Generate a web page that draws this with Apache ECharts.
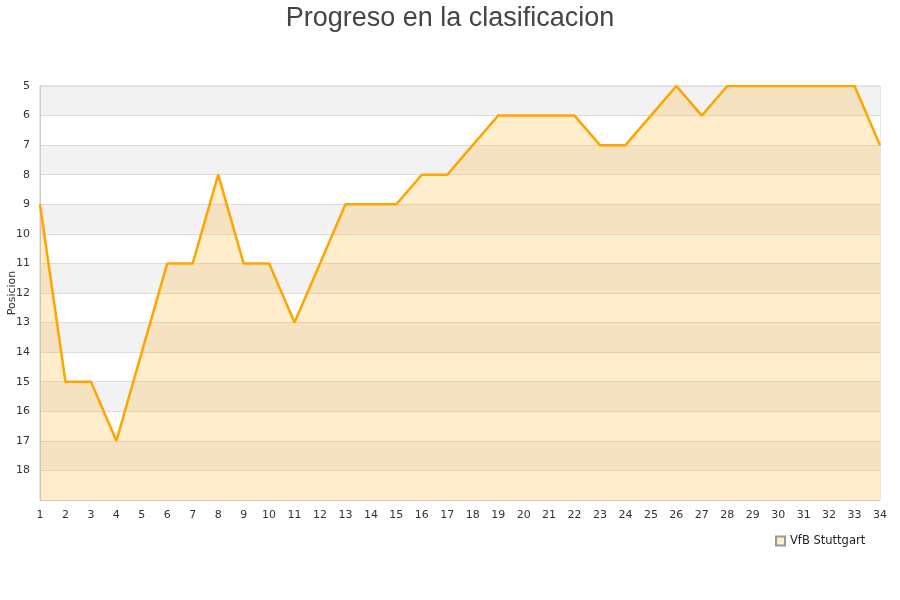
<!DOCTYPE html>
<html><head><meta charset="utf-8">
<script src="https://cdn.jsdelivr.net/npm/echarts@6/dist/echarts.min.js"></script>
<style>html,body{margin:0;padding:0;background:#fff}#c{width:900px;height:600px}</style>
</head><body><div id="c"></div>
<script>
const jornadas = ['1','2','3','4','5','6','7','8','9','10','11','12','13','14','15','16','17','18','19','20','21','22','23','24','25','26','27','28','29','30','31','32','33','34'];
const posiciones = [9,15,15,17,14,11,11,8,11,11,13,11,9,9,9,8,8,7,6,6,6,6,7,7,6,5,6,5,5,5,5,5,5,7];
const equipo = 'VfB Stuttgart';
const titulo = 'Progreso en la clasificacion';

const chart = echarts.init(document.getElementById('c'));
chart.setOption({
  animation: false,
  backgroundColor: '#fff',
  title: { text: titulo, left: 'center', top: 0,
    textStyle: { fontFamily: 'Liberation Sans', fontSize: 27, fontWeight: 'normal', color: '#444' } },
  legend: { data: [{ name: equipo, icon: 'rect' }], left: 770, top: 530, itemWidth: 9, itemHeight: 9, itemGap: 9,
    textStyle: { fontFamily: 'DejaVu Sans', fontSize: 11.5, color: '#222' } },
  grid: { left: 40, right: 20, top: 86, bottom: 100, containLabel: false, outerBoundsMode: 'none',
    show: true, borderColor: '#ccc', borderWidth: 1 },
  xAxis: { type: 'category', data: jornadas, boundaryGap: false,
    axisLine: { lineStyle: { color: '#ccc' } }, axisTick: { show: false },
    axisLabel: { fontFamily: 'DejaVu Sans', fontSize: 11, color: '#333', margin: 10 },
    splitLine: { show: false } },
  yAxis: { type: 'value', inverse: true, min: 5, max: 19, interval: 1,
    name: 'Posicion', nameLocation: 'middle', nameGap: 22, nameMoveOverlap: false,
    nameTextStyle: { fontFamily: 'DejaVu Sans', fontSize: 11, color: '#333' },
    axisLine: { show: true, lineStyle: { color: '#ccc' } }, axisTick: { show: false },
    axisLabel: { fontFamily: 'DejaVu Sans', fontSize: 11, color: '#333', margin: 10,
      formatter: v => v === 19 ? '' : String(v) },
    splitLine: { lineStyle: { color: '#ddd' } },
    splitArea: { show: true, areaStyle: { color: ['#f2f2f2', '#ffffff'] } } },
  series: [{
    name: equipo, type: 'line', data: posiciones, showSymbol: false, symbol: 'none',
    lineStyle: { color: '#ffa500', width: 2.5 },
    itemStyle: { color: '#ffedcc', borderColor: '#999', borderWidth: 1 },
    areaStyle: { color: 'rgba(255,165,0,0.2)', opacity: 1, origin: 'end' }
  }]
});
</script></body></html>
